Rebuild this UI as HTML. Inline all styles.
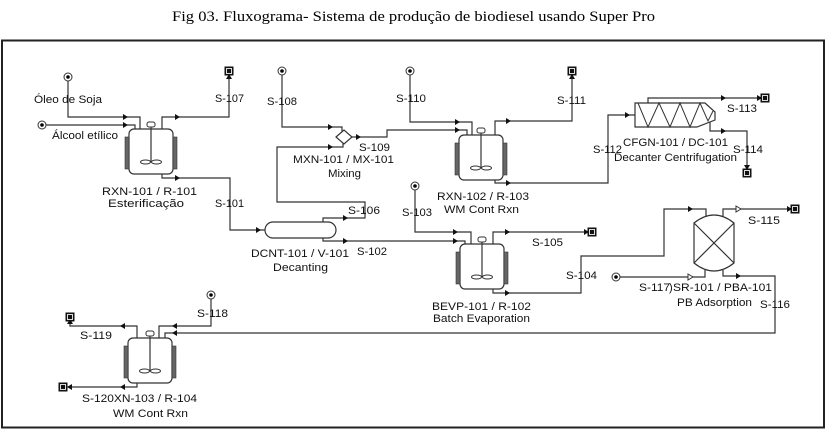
<!DOCTYPE html>
<html><head><meta charset="utf-8"><style>
html,body{margin:0;padding:0;background:#fff;}
svg{display:block;}
text{font-family:"Liberation Sans",Arial,sans-serif;font-size:11px;fill:#111;}
.t{font-family:"Liberation Serif","Times New Roman",serif;font-size:15px;fill:#000;}
</style></head><body>
<svg width="827" height="430" viewBox="0 0 827 430" xmlns="http://www.w3.org/2000/svg">
<defs>
<g id="rx">
 <rect x="0" y="0" width="44" height="45" rx="5" fill="#fff" stroke="#333" stroke-width="1.2"/>
 <rect x="-4" y="8" width="4" height="32" fill="#666" stroke="#333" stroke-width="0.6"/>
 <rect x="44" y="8" width="4" height="32" fill="#666" stroke="#333" stroke-width="0.6"/>
 <line x1="22" y1="-2" x2="22" y2="33" stroke="#333" stroke-width="1.2"/>
 <rect x="18" y="-7" width="8" height="5" rx="2" fill="#fff" stroke="#333"/>
 <ellipse cx="16.5" cy="33" rx="5" ry="2" fill="#fff" stroke="#333"/>
 <ellipse cx="27.5" cy="33" rx="5" ry="2" fill="#fff" stroke="#333"/>
</g>
<g id="src"><circle r="4" fill="#fff" stroke="#333"/><circle r="1.8" fill="#000"/></g>
<g id="snk"><rect x="-4.5" y="-4.5" width="9" height="9" fill="#111"/><rect x="-2.5" y="-2.5" width="5" height="5" fill="#111" stroke="#ddd" stroke-width="1"/></g>
</defs>

<text class="t" x="172" y="21" textLength="483" lengthAdjust="spacingAndGlyphs">Fig 03. Fluxograma- Sistema de produção de biodiesel usando Super Pro</text>

<rect x="2" y="40.5" width="822" height="387" fill="none" stroke="#222" stroke-width="2"/>

<g fill="none" stroke="#333" stroke-width="1.2">
<path d="M68,81 V117 H140 V129"/>
<path d="M46,125 H135 V129"/>
<path d="M162,129 V117 H229 V76"/>
<path d="M162,174 V178 H230 V230 H265"/>
<path d="M323,222 V218 H365 V202 H277 V147 H343 V143"/>
<path d="M323,238 V241 H465 V244"/>
<path d="M415,190 V232 H471 V244"/>
<path d="M493,244 V232 H587"/>
<path d="M493,289 V293 H581 V256 H664 V209 H706 V216"/>
<path d="M282,75 V127 H342 V133"/>
<path d="M352,137 H387 V130 H467 V135"/>
<path d="M410,75 V122 H472 V135"/>
<path d="M495,135 V121 H572 V76"/>
<path d="M495,180 V183 H608 V115 H635"/>
<path d="M648,103 V98 H760"/>
<path d="M710,122 V131 H747 V168"/>
<path d="M723,216 V209 H790"/>
<path d="M620,277 H705 V270"/>
<path d="M723,270 V276 H775 V333 H165 V338"/>
<path d="M211,299 V326 H159 V338"/>
<path d="M137,338 V326 H70 V322"/>
<path d="M137,383 V387 H68"/>
</g>

<!-- equipment -->
<use href="#rx" x="129" y="129"/>
<use href="#rx" x="459" y="135"/>
<use href="#rx" x="460" y="244"/>
<use href="#rx" x="128" y="338"/>

<rect x="265" y="222" width="71" height="16" rx="8" fill="#fff" stroke="#333" stroke-width="1.2"/>
<polygon points="336,137 344,130 352,137 344,144" fill="#fff" stroke="#333" stroke-width="1.2"/>

<path d="M635,103 H705 L715,112 V120 L697,127 H635 Z" fill="#fff" stroke="#333" stroke-width="1.2"/>
<path d="M638,103 L648,127 L659,103 L670,127 L680,103 L690,127 L700,103 L708,121 L713,111" fill="none" stroke="#333" stroke-width="1"/>

<g fill="#fff" stroke="#333" stroke-width="1.2">
<path d="M694,223 Q714,207 734,223 V263 Q714,279 694,263 Z"/>
<path d="M694,223 L734,263 M734,223 L694,263" fill="none"/>
</g>

<!-- arrows -->
<g fill="#111">
<polygon points="123,114 128,117 123,120"/>
<polygon points="123,122 128,125 123,128"/>
<polygon points="175,114 180,117 175,120"/>
<polygon points="175,175 180,178 175,181"/>
<polygon points="256,227 261,230 256,233"/>
<polygon points="343,215 348,218 343,221"/>
<polygon points="343,238 348,241 343,244"/>
<polygon points="453,229 458,232 453,235"/>
<polygon points="453,238 458,241 453,244"/>
<polygon points="505,229 510,232 505,235"/>
<polygon points="584,229 589,232 584,235"/>
<polygon points="505,290 510,293 505,296"/>
<polygon points="688,206 693,209 688,212"/>
<polygon points="328,124 333,127 328,130"/>
<polygon points="328,144 333,147 328,150"/>
<polygon points="356,134 361,137 356,140"/>
<polygon points="455,127 460,130 455,133"/>
<polygon points="455,119 460,122 455,125"/>
<polygon points="506,118 511,121 506,124"/>
<polygon points="506,180 511,183 506,186"/>
<polygon points="625,112 630,115 625,118"/>
<polygon points="721,95 726,98 721,101"/>
<polygon points="757,95 762,98 757,101"/>
<polygon points="721,128 726,131 721,134"/>
<polygon points="787,206 792,209 787,212"/>
<polygon points="736,273 741,276 736,279"/>
<polygon points="226,79 229,74 232,79"/>
<polygon points="569,79 572,74 575,79"/>
<polygon points="67,324 70,319 73,324"/>
<polygon points="744,165 747,170 750,165"/>
<polygon points="177,330 172,333 177,336"/>
<polygon points="177,323 172,326 177,329"/>
<polygon points="125,323 120,326 125,329"/>
<polygon points="125,384 120,387 125,390"/>
<polygon points="72,384 67,387 72,390"/>
</g>
<g fill="#fff" stroke="#333" stroke-width="1">
<polygon points="736,206 741,209 736,212"/>
<polygon points="688,274 693,277 688,280"/>
</g>

<!-- sources & sinks -->
<use href="#src" x="68" y="77"/>
<use href="#src" x="42" y="125"/>
<use href="#src" x="282" y="71"/>
<use href="#src" x="410" y="71"/>
<use href="#src" x="415" y="186"/>
<use href="#src" x="616" y="277"/>
<use href="#src" x="211" y="295"/>

<use href="#snk" x="229" y="71"/>
<use href="#snk" x="572" y="71"/>
<use href="#snk" x="592" y="232"/>
<use href="#snk" x="765" y="98"/>
<use href="#snk" x="747" y="173"/>
<use href="#snk" x="795" y="209"/>
<use href="#snk" x="70" y="317"/>
<use href="#snk" x="63" y="387"/>

<!-- labels -->
<g>
<text x="34" y="103" textLength="68" lengthAdjust="spacingAndGlyphs">Óleo de Soja</text>
<text x="52" y="139" textLength="66" lengthAdjust="spacingAndGlyphs">Álcool etílico</text>
<text x="215" y="102" textLength="29" lengthAdjust="spacingAndGlyphs">S-107</text>
<text x="102" y="195" textLength="95" lengthAdjust="spacingAndGlyphs">RXN-101 / R-101</text>
<text x="108" y="207" textLength="76" lengthAdjust="spacingAndGlyphs">Esterificação</text>
<text x="215" y="207" textLength="29" lengthAdjust="spacingAndGlyphs">S-101</text>
<text x="267" y="105" textLength="30" lengthAdjust="spacingAndGlyphs">S-108</text>
<text x="396" y="102" textLength="30" lengthAdjust="spacingAndGlyphs">S-110</text>
<text x="359" y="151" textLength="31" lengthAdjust="spacingAndGlyphs">S-109</text>
<text x="293" y="163" textLength="101" lengthAdjust="spacingAndGlyphs">MXN-101 / MX-101</text>
<text x="328" y="177" textLength="33" lengthAdjust="spacingAndGlyphs">Mixing</text>
<text x="437" y="200" textLength="92" lengthAdjust="spacingAndGlyphs">RXN-102 / R-103</text>
<text x="444" y="213" textLength="75" lengthAdjust="spacingAndGlyphs">WM Cont Rxn</text>
<text x="557" y="104" textLength="29" lengthAdjust="spacingAndGlyphs">S-111</text>
<text x="593" y="153" textLength="29" lengthAdjust="spacingAndGlyphs">S-112</text>
<text x="623" y="146" textLength="105" lengthAdjust="spacingAndGlyphs">CFGN-101 / DC-101</text>
<text x="614" y="161" textLength="123" lengthAdjust="spacingAndGlyphs">Decanter Centrifugation</text>
<text x="727" y="112" textLength="30" lengthAdjust="spacingAndGlyphs">S-113</text>
<text x="733" y="153" textLength="30" lengthAdjust="spacingAndGlyphs">S-114</text>
<text x="348" y="214" textLength="32" lengthAdjust="spacingAndGlyphs">S-106</text>
<text x="402" y="216" textLength="30" lengthAdjust="spacingAndGlyphs">S-103</text>
<text x="357" y="255" textLength="30" lengthAdjust="spacingAndGlyphs">S-102</text>
<text x="251" y="257" textLength="98" lengthAdjust="spacingAndGlyphs">DCNT-101 / V-101</text>
<text x="273" y="271" textLength="55" lengthAdjust="spacingAndGlyphs">Decanting</text>
<text x="532" y="246" textLength="31" lengthAdjust="spacingAndGlyphs">S-105</text>
<text x="432" y="310" textLength="99" lengthAdjust="spacingAndGlyphs">BEVP-101 / R-102</text>
<text x="433" y="322" textLength="97" lengthAdjust="spacingAndGlyphs">Batch Evaporation</text>
<text x="566" y="279" textLength="31" lengthAdjust="spacingAndGlyphs">S-104</text>
<text x="748" y="224" textLength="32" lengthAdjust="spacingAndGlyphs">S-115</text>
<text x="639" y="291" textLength="31" lengthAdjust="spacingAndGlyphs">S-117</text>
<text x="669" y="291">)</text>
<text x="673" y="291" textLength="99" lengthAdjust="spacingAndGlyphs">SR-101 / PBA-101</text>
<text x="677" y="306" textLength="75" lengthAdjust="spacingAndGlyphs">PB Adsorption</text>
<text x="760" y="308" textLength="30" lengthAdjust="spacingAndGlyphs">S-116</text>
<text x="197" y="317" textLength="31" lengthAdjust="spacingAndGlyphs">S-118</text>
<text x="80" y="339" textLength="32" lengthAdjust="spacingAndGlyphs">S-119</text>
<text x="82" y="402" textLength="115" lengthAdjust="spacingAndGlyphs">S-120XN-103 / R-104</text>
<text x="113" y="417" textLength="75" lengthAdjust="spacingAndGlyphs">WM Cont Rxn</text>
</g>
</svg>
</body></html>
